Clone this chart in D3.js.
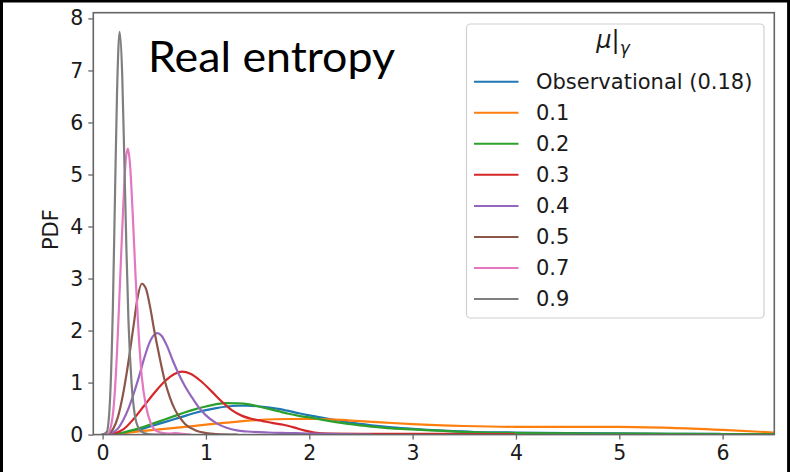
<!DOCTYPE html>
<html>
<head>
<meta charset="utf-8">
<script src="https://cdn.jsdelivr.net/npm/d3@7/dist/d3.min.js"></script>
<style>
  html, body { margin: 0; padding: 0; background: #fff; }
  svg { display: block; }
</style>
</head>
<body>
<svg id="chart" width="790" height="472"></svg>
<script>
// ---------------- DATA ----------------
const seriesLabels = ["Observational (0.18)", "0.1", "0.2", "0.3", "0.4", "0.5", "0.7", "0.9"];
const legendTitle = "μ|γ";
const chartTitle = "Real entropy";
const yLabel = "PDF";
const xTicks = [0, 1, 2, 3, 4, 5, 6];
const yTicks = [0, 1, 2, 3, 4, 5, 6, 7, 8];

// [x, pdf] pairs
const obsPts = [[0,0],[0.1,0.01],[0.2,0.03],[0.3,0.07],[0.4,0.12],[0.5,0.18],[0.6,0.24],[0.7,0.3],[0.8,0.36],[0.9,0.42],[1.0,0.47],[1.1,0.51],[1.2,0.54],[1.3,0.555],[1.4,0.555],[1.5,0.545],[1.6,0.525],[1.7,0.495],[1.8,0.455],[1.9,0.41],[2.0,0.37],[2.2,0.3],[2.4,0.23],[2.6,0.18],[2.8,0.14],[3.0,0.11],[3.3,0.075],[3.6,0.05],[4.0,0.04],[4.5,0.03],[5.0,0.022],[5.5,0.016],[6.0,0.012],[6.5,0.008]];
const mu01Pts = [[0.05,0],[0.2,0.03],[0.4,0.07],[0.6,0.11],[0.8,0.15],[1.0,0.19],[1.2,0.23],[1.5,0.28],[1.8,0.3],[2.1,0.3],[2.4,0.27],[2.7,0.235],[3.0,0.2],[3.5,0.165],[4.0,0.15],[4.5,0.15],[5.0,0.15],[5.5,0.13],[6.0,0.09],[6.5,0.04]];
const mu02Pts = [[0,0],[0.1,0.01],[0.2,0.04],[0.3,0.09],[0.4,0.15],[0.5,0.22],[0.6,0.29],[0.7,0.36],[0.8,0.43],[0.9,0.49],[1.0,0.54],[1.1,0.585],[1.2,0.605],[1.3,0.6],[1.4,0.585],[1.5,0.545],[1.6,0.5],[1.7,0.45],[1.8,0.4],[1.9,0.36],[2.0,0.33],[2.2,0.26],[2.4,0.2],[2.6,0.155],[2.8,0.12],[3.0,0.1],[3.3,0.07],[3.6,0.045],[4.0,0.03],[4.5,0.022],[5.0,0.02],[5.5,0.015],[6.0,0.01],[6.5,0.008]];
const mu03Pts = [[0,0],[0.1,0.02],[0.2,0.1],[0.3,0.3],[0.4,0.55],[0.5,0.8],[0.6,1.02],[0.7,1.17],[0.77,1.21],[0.85,1.17],[0.95,1.03],[1.05,0.84],[1.15,0.64],[1.25,0.47],[1.35,0.36],[1.45,0.3],[1.55,0.26],[1.65,0.22],[1.75,0.19],[1.85,0.14],[1.95,0.08],[2.05,0.04],[2.2,0.02],[2.5,0.015],[3.0,0.015],[3.5,0.01],[3.98,0.008]];
const mu04Pts = [[0,0],[0.05,0.01],[0.1,0.04],[0.15,0.12],[0.2,0.28],[0.25,0.5],[0.3,0.78],[0.35,1.1],[0.4,1.45],[0.45,1.75],[0.5,1.92],[0.53,1.95],[0.57,1.9],[0.62,1.72],[0.68,1.42],[0.74,1.15],[0.8,0.92],[0.87,0.7],[0.94,0.5],[1.0,0.37],[1.1,0.22],[1.2,0.13],[1.3,0.08],[1.4,0.06],[1.6,0.04],[1.8,0.03],[2.0,0.02],[2.3,0.01],[2.6,0]];
const mu05Pts = [[0,0],[0.05,0.01],[0.1,0.1],[0.15,0.35],[0.2,0.8],[0.25,1.4],[0.3,2.1],[0.34,2.65],[0.38,2.9],[0.42,2.8],[0.46,2.45],[0.5,2.0],[0.55,1.5],[0.6,1.05],[0.65,0.72],[0.7,0.48],[0.75,0.32],[0.8,0.2],[0.9,0.08],[1.0,0.03],[1.1,0.01],[1.3,0]];
const mu07Pts = [[0,0],[0.05,0.02],[0.08,0.15],[0.11,0.6],[0.14,1.6],[0.17,3.0],[0.2,4.4],[0.225,5.3],[0.245,5.5],[0.265,5.2],[0.29,4.3],[0.32,3.0],[0.35,1.9],[0.38,1.1],[0.42,0.55],[0.46,0.25],[0.5,0.1],[0.56,0.04],[0.65,0.02],[0.7,0.03],[0.75,0.02],[0.85,0]];
const mu09Pts = [[0,0],[0.04,0.05],[0.07,0.6],[0.1,2.5],[0.12,4.6],[0.14,6.6],[0.165,7.74],[0.19,6.9],[0.21,5.3],[0.23,3.6],[0.25,2.2],[0.28,1.0],[0.31,0.4],[0.35,0.12],[0.4,0.03],[0.5,0],[0.6,0]];

const seriesPoints = [obsPts, mu01Pts, mu02Pts, mu03Pts, mu04Pts, mu05Pts, mu07Pts, mu09Pts];

// ---------------- STYLE ----------------
const colors = ["#1f77b4", "#ff7f0e", "#2ca02c", "#d62728", "#9467bd", "#8c564b", "#e377c2", "#7f7f7f"];
const tickFont = "'DejaVu Sans', sans-serif";

// ---------------- LAYOUT ----------------
const svg = d3.select("#chart");
const plot = { left: 93.3, right: 774.3, top: 12.7, bottom: 434.6 };

const x = d3.scaleLinear().domain([-0.09, 6.5]).range([plot.left, plot.right]);
const y = d3.scaleLinear().domain([0, 8.11]).range([plot.bottom, plot.top]);

// outer frame
svg.append("path")
  .attr("d", "M1.5,472 V1 H788.6 V472")
  .attr("fill", "none").attr("stroke", "#000").attr("stroke-width", 3);

// clip
svg.append("clipPath").attr("id", "clip")
  .append("rect").attr("x", plot.left).attr("y", plot.top)
  .attr("width", plot.right - plot.left).attr("height", plot.bottom - plot.top);

// curves
const line = d3.line()
  .x(d => x(d[0])).y(d => y(d[1]))
  .curve(d3.curveMonotoneX);

const gLines = svg.append("g").attr("clip-path", "url(#clip)");
seriesPoints.forEach((pts, i) => {
  gLines.append("path")
    .datum(pts)
    .attr("d", line)
    .attr("fill", "none")
    .attr("stroke", colors[i])
    .attr("stroke-width", 2.2)
    .attr("stroke-linejoin", "round")
    .attr("stroke-linecap", "round");
});

// axes
const xAxis = d3.axisBottom(x).tickValues(xTicks).tickSize(5).tickPadding(6).tickFormat(d3.format("d"));
const yAxis = d3.axisLeft(y).tickValues(yTicks).tickSize(5).tickPadding(5).tickFormat(d3.format("d"));

const gx = svg.append("g").attr("transform", `translate(0,${plot.bottom})`).call(xAxis);
const gy = svg.append("g").attr("transform", `translate(${plot.left},0)`).call(yAxis);
[gx, gy].forEach(g => {
  g.select(".domain").remove();
  g.selectAll(".tick line").attr("stroke", "#666").attr("stroke-width", 1.3);
  g.selectAll(".tick text").attr("fill", "#1a1a1a")
    .style("font-family", tickFont).style("font-size", "20.5px");
});

// spines
svg.append("rect")
  .attr("x", plot.left).attr("y", plot.top)
  .attr("width", plot.right - plot.left).attr("height", plot.bottom - plot.top)
  .attr("fill", "none").attr("stroke", "#666").attr("stroke-width", 1.6);

// y label
svg.append("text")
  .attr("transform", `translate(58,${(plot.top + plot.bottom) / 2 + 6}) rotate(-90)`)
  .attr("text-anchor", "middle")
  .style("font-family", tickFont).style("font-size", "21px")
  .attr("fill", "#1a1a1a")
  .text(yLabel);

// title
svg.append("text")
  .attr("x", 148).attr("y", 72)
  .style("font-family", "Lato, 'Liberation Sans', sans-serif").style("font-size", "42px")
  .attr("fill", "#000")
  .attr("textLength", 247).attr("lengthAdjust", "spacingAndGlyphs")
  .text(chartTitle);

// legend
const lg = svg.append("g");
lg.append("rect")
  .attr("x", 466.5).attr("y", 24).attr("width", 297.5).attr("height", 294)
  .attr("rx", 4).attr("fill", "#fff").attr("fill-opacity", 0.85)
  .attr("stroke", "#d0d0d0").attr("stroke-width", 1.2);

const titleParts = legendTitle.split("|");
const lt = lg.append("text")
  .attr("x", 613).attr("y", 48)
  .attr("text-anchor", "middle")
  .style("font-family", tickFont).style("font-size", "24px")
  .attr("fill", "#1a1a1a");
lt.append("tspan").style("font-style", "italic").text(titleParts[0]);
lt.append("tspan").text("|");
lt.append("tspan").attr("dy", 6).style("font-style", "italic").style("font-size", "17px").text(titleParts[1]);

const rowY0 = 81.7, rowStep = 31.05;
seriesLabels.forEach((lab, i) => {
  const yy = rowY0 + i * rowStep;
  lg.append("line")
    .attr("x1", 474).attr("x2", 518.5).attr("y1", yy).attr("y2", yy)
    .attr("stroke", colors[i]).attr("stroke-width", 2);
  lg.append("text")
    .attr("x", 536).attr("y", yy).attr("dy", "0.35em")
    .style("font-family", tickFont).style("font-size", "21px")
    .attr("fill", "#1a1a1a")
    .text(lab);
});
</script>
</body>
</html>
